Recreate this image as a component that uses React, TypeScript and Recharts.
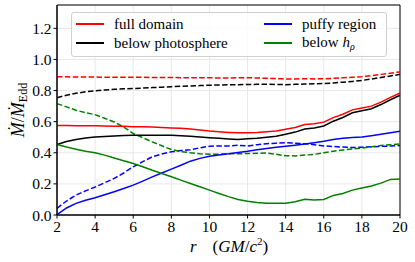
import { LineChart, Line, XAxis, YAxis, CartesianGrid, Legend, ReferenceArea } from 'recharts';

const RADII = [
  2, 2.5, 3, 3.5, 4, 4.5, 5, 5.5, 6, 6.5, 7, 7.5, 8, 8.5, 9, 9.5, 10, 10.5, 11, 11.5,
  12, 12.5, 13, 13.5, 14, 14.5, 15, 15.5, 16, 16.5, 17, 17.5, 18, 18.5, 19, 19.5, 20,
];

// solid lines
const FULL_DOMAIN = [
  0.575, 0.575, 0.574, 0.574, 0.573, 0.572, 0.571, 0.57, 0.568, 0.567, 0.565, 0.563, 0.56, 0.557,
  0.553, 0.547, 0.54, 0.535, 0.531, 0.528, 0.528, 0.53, 0.535, 0.54, 0.551, 0.563, 0.582, 0.587,
  0.597, 0.626, 0.648, 0.676, 0.688, 0.7, 0.726, 0.756, 0.784,
];
const BELOW_PHOTOSPHERE = [
  0.453, 0.472, 0.486, 0.495, 0.501, 0.505, 0.508, 0.511, 0.512, 0.513, 0.513, 0.513, 0.512, 0.51,
  0.507, 0.502, 0.497, 0.493, 0.489, 0.486, 0.49, 0.494, 0.5, 0.506, 0.519, 0.533, 0.553, 0.56,
  0.572, 0.603, 0.627, 0.657, 0.67, 0.683, 0.71, 0.741, 0.77,
];
const PUFFY = [
  0.003, 0.045, 0.075, 0.095, 0.111, 0.13, 0.15, 0.17, 0.192, 0.218, 0.245, 0.27, 0.295, 0.32,
  0.346, 0.364, 0.378, 0.386, 0.393, 0.402, 0.41, 0.42, 0.428, 0.436, 0.442, 0.449, 0.457, 0.465,
  0.474, 0.485, 0.494, 0.498, 0.502, 0.51, 0.519, 0.528, 0.538,
];
const BELOW_HP = [
  0.453, 0.437, 0.423, 0.41, 0.4, 0.385, 0.367, 0.349, 0.331, 0.31, 0.288, 0.267, 0.246, 0.224,
  0.203, 0.182, 0.16, 0.138, 0.118, 0.1, 0.088, 0.08, 0.075, 0.076, 0.075, 0.085, 0.101, 0.097,
  0.1, 0.126, 0.138, 0.16, 0.173, 0.186, 0.205, 0.229, 0.231,
];

// dashed lines
const FULL_DOMAIN_D = [
  0.888, 0.888, 0.887, 0.887, 0.887, 0.886, 0.886, 0.886, 0.885, 0.885, 0.884, 0.884, 0.884, 0.883,
  0.883, 0.882, 0.882, 0.881, 0.881, 0.882, 0.882, 0.881, 0.879, 0.877, 0.875, 0.875, 0.876, 0.875,
  0.876, 0.879, 0.882, 0.885, 0.889, 0.896, 0.904, 0.912, 0.92,
];
const BELOW_PHOTOSPHERE_D = [
  0.754, 0.77, 0.782, 0.792, 0.799, 0.804, 0.808, 0.811, 0.813, 0.816, 0.819, 0.822, 0.825, 0.828,
  0.83, 0.832, 0.834, 0.836, 0.837, 0.838, 0.839, 0.84, 0.841, 0.839, 0.838, 0.84, 0.842, 0.843,
  0.845, 0.849, 0.854, 0.859, 0.865, 0.874, 0.884, 0.894, 0.904,
];
const PUFFY_D = [
  0.043, 0.09, 0.128, 0.155, 0.18, 0.207, 0.235, 0.27, 0.31, 0.343, 0.374, 0.392, 0.406, 0.414,
  0.42, 0.432, 0.442, 0.444, 0.444, 0.448, 0.444, 0.452, 0.458, 0.462, 0.465, 0.462, 0.458, 0.452,
  0.444, 0.44, 0.437, 0.434, 0.436, 0.438, 0.441, 0.443, 0.446,
];
const BELOW_HP_D = [
  0.716, 0.695, 0.673, 0.658, 0.645, 0.622, 0.598, 0.565, 0.524, 0.497, 0.47, 0.445, 0.421, 0.408,
  0.4, 0.394, 0.39, 0.391, 0.393, 0.394, 0.395, 0.397, 0.398, 0.39, 0.381, 0.38, 0.385, 0.39, 0.4,
  0.41, 0.418, 0.424, 0.43, 0.438, 0.447, 0.452, 0.456,
];

const X_TICKS = [2, 4, 6, 8, 10, 12, 14, 16, 18, 20];
const Y_TICKS = [0, 0.2, 0.4, 0.6, 0.8, 1.0, 1.2];

const SERIES = [
  { key: 'full', color: '#ff0000', solid: FULL_DOMAIN, dashed: FULL_DOMAIN_D },
  { key: 'photo', color: '#000000', solid: BELOW_PHOTOSPHERE, dashed: BELOW_PHOTOSPHERE_D },
  { key: 'puffy', color: '#0000ff', solid: PUFFY, dashed: PUFFY_D },
  { key: 'hp', color: '#008000', solid: BELOW_HP, dashed: BELOW_HP_D },
];

const data = RADII.map((r, i) => {
  const row: Record<string, number> = { r };
  SERIES.forEach((s) => {
    row[s.key] = s.solid[i];
    row[s.key + 'D'] = s.dashed[i];
  });
  return row;
});

// DejaVu Serif isn't installed here, Liberation Serif is the nearest serif
const FONT = "'Liberation Serif', serif";
const tickStyle = { fontSize: 15.5, fill: '#000', fontFamily: FONT };

function LegendItem({ color, children }: { color: string; children: React.ReactNode }) {
  return (
    <div style={{ display: 'flex', alignItems: 'center', height: 18, lineHeight: '18px', whiteSpace: 'nowrap' }}>
      <span style={{ width: 28, height: 0, borderTop: `2px solid ${color}`, marginRight: 10, flexShrink: 0 }} />
      <span>{children}</span>
    </div>
  );
}

function ChartLegend() {
  return (
    <div
      style={{
        boxSizing: 'border-box',
        width: 316,
        height: 45,
        border: '1px solid #d0d0d0',
        borderRadius: 3,
        background: 'rgba(255,255,255,0.85)',
        fontFamily: FONT,
        fontSize: 15,
        color: '#000',
        display: 'grid',
        gridTemplateColumns: '188px auto',
        gridTemplateRows: '18px 18px',
        alignContent: 'start',
        rowGap: 0.5,
        padding: '2px 0 0 4px',
      }}
    >
      <LegendItem color="#ff0000">full domain</LegendItem>
      <LegendItem color="#0000ff">puffy region</LegendItem>
      <LegendItem color="#000000">below photosphere</LegendItem>
      <LegendItem color="#008000">
        below <i>h</i>
        <span style={{ fontSize: 10, fontStyle: 'italic', position: 'relative', top: 3 }}>ρ</span>
      </LegendItem>
    </div>
  );
}

export default function App() {
  return (
    <div style={{ position: 'absolute', left: 0, top: 0, background: '#fff' }}>
      <LineChart width={415} height={262} data={data} margin={{ top: 5, right: 15, left: 0, bottom: 0 }}>
        <CartesianGrid stroke="#e8e8e8" strokeWidth={1} />
        <XAxis
          dataKey="r"
          type="number"
          domain={[2, 20]}
          ticks={X_TICKS}
          height={47}
          tick={tickStyle}
          tickSize={3.5}
          tickLine={{ stroke: '#000' }}
          axisLine={{ stroke: '#000' }}
          label={{
            content: () => (
              <text x={229} y={252} textAnchor="middle" fontFamily={FONT} fontSize={17} fill="#000">
                <tspan fontStyle="italic">r</tspan>
                <tspan dx={16}>(</tspan>
                <tspan fontStyle="italic">GM</tspan>
                <tspan>/</tspan>
                <tspan fontStyle="italic">c</tspan>
                <tspan dy={-7} fontSize={11}>2</tspan>
                <tspan dy={7}>)</tspan>
              </text>
            ),
          }}
        />
        <YAxis
          type="number"
          domain={[0, 1.35]}
          ticks={Y_TICKS}
          width={57}
          tick={tickStyle}
          tickSize={3.5}
          tickLine={{ stroke: '#000' }}
          axisLine={{ stroke: '#000' }}
          tickFormatter={(v: number) => v.toFixed(1)}
          label={{
            content: () => (
              <text
                transform="translate(24,110) rotate(-90)"
                textAnchor="middle"
                fontFamily={FONT}
                fontSize={18}
                fill="#000"
              >
                <tspan fontStyle="italic">Ṁ</tspan>
                <tspan>/</tspan>
                <tspan fontStyle="italic">Ṁ</tspan>
                <tspan dy={3} fontSize={12}>Edd</tspan>
              </text>
            ),
          }}
        />
        <ReferenceArea x1={2} x2={20} y1={0} y2={1.35} fill="none" stroke="#000" strokeWidth={1} />
        {SERIES.map((s) => (
          <Line
            key={s.key + 'D'}
            dataKey={s.key + 'D'}
            type="linear"
            stroke={s.color}
            strokeWidth={1.5}
            strokeDasharray="5.5 2.4"
            dot={false}
            isAnimationActive={false}
          />
        ))}
        {SERIES.map((s) => (
          <Line
            key={s.key}
            dataKey={s.key}
            type="linear"
            stroke={s.color}
            strokeWidth={1.5}
            dot={false}
            isAnimationActive={false}
          />
        ))}
        <Legend
          layout="horizontal"
          align="center"
          verticalAlign="middle"
          wrapperStyle={{ left: 71, top: 12, width: 316, height: 45 }}
          content={() => <ChartLegend />}
        />
      </LineChart>
    </div>
  );
}
